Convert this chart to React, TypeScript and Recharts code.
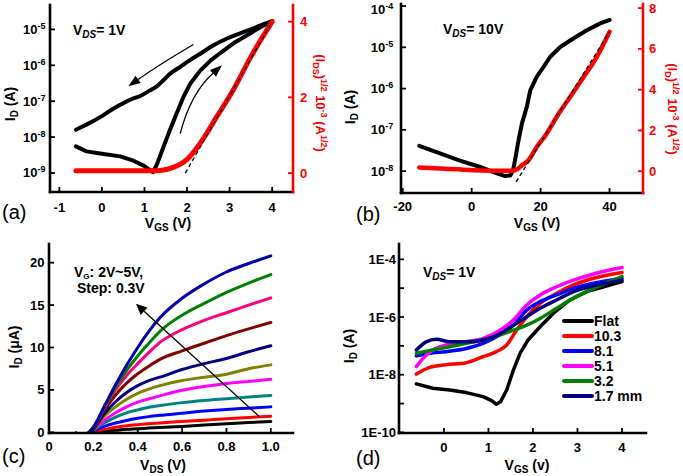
import React from 'react';
import { LineChart, Line, XAxis, YAxis, ReferenceLine, Legend } from 'recharts';

const FONT = '"Liberation Sans", Arial, Helvetica, sans-serif';

// ---------- Panel (a) data ----------
const aRevVgs = [-0.61, -0.28, -0.04, 0.19, 0.43, 0.66, 0.9, 1.13, 1.29, 1.45, 1.6, 1.84, 2.07, 2.31, 2.62, 2.94, 3.25, 3.56, 3.8, 4.0];
const aRevId = [1.6e-8, 2.5e-8, 3.6e-8, 5.4e-8, 7.9e-8, 1.1e-7, 1.4e-7, 2.0e-7, 2.6e-7, 3.9e-7, 5.8e-7, 9.1e-7, 1.4e-6, 2.1e-6, 3.6e-6, 5.6e-6, 7.8e-6, 1.07e-5, 1.4e-5, 1.7e-5];
const aFwdVgs = [-0.61, -0.36, -0.04, 0.43, 0.74, 0.98, 1.2, 1.29, 1.45, 1.6, 1.76, 1.92, 2.07, 2.31, 2.55, 2.78, 3.09, 3.41, 3.72, 4.0];
const aFwdId = [5.5e-9, 4.0e-9, 3.5e-9, 2.9e-9, 2.2e-9, 1.6e-9, 1.05e-9, 1.7e-9, 5.5e-9, 1.6e-8, 4.7e-8, 1.35e-7, 3.0e-7, 7.1e-7, 1.35e-6, 2.2e-6, 4.1e-6, 6.9e-6, 1.15e-5, 1.7e-5];
const aSqrtVgs = [-0.61, -0.3, 0, 0.4, 0.8, 1.0, 1.2, 1.37, 1.68, 2.0, 2.31, 2.7, 3.09, 3.49, 4.0];
const aSqrtId = [0.06, 0.06, 0.06, 0.06, 0.06, 0.06, 0.06, 0.07, 0.15, 0.36, 0.79, 1.49, 2.2, 3.05, 4.0];
const aFitVgs = [1.96, 4.0];
const aFitVal = [0, 4.0];
const aXTicks = [-1, 0, 1, 2, 3, 4];
const aYTicks = [1e-9, 1e-8, 1e-7, 1e-6, 1e-5];
const aRTicks = [0, 2, 4];

// ---------- Panel (b) data ----------
const bVgs = [-15.2, -9.2, -3.4, 2.5, 6.3, 9.7, 11.2, 12.0, 12.6, 13.6, 14.6, 16.0, 17.0, 18.9, 20.9, 22.8, 25.7, 29.6, 33.4, 37.3, 40.0];
const bId = [4.1e-8, 2.7e-8, 1.8e-8, 1.26e-8, 9.5e-9, 7.6e-9, 7.8e-9, 1.05e-8, 1.9e-8, 5.6e-8, 1.45e-7, 3.6e-7, 9.1e-7, 1.95e-6, 3.4e-6, 5.9e-6, 1.02e-5, 1.66e-5, 2.6e-5, 3.8e-5, 4.6e-5];
const bSqrtVgs = [-15.2, -9.2, 0.5, 10.2, 12.6, 14.6, 16.5, 18.9, 21.8, 24.7, 28.6, 32.5, 36.3, 40.0];
const bSqrtId = [0.18, 0.13, 0.05, 0.02, 0.05, 0.29, 0.54, 1.19, 1.85, 2.67, 3.65, 4.63, 5.61, 6.84];
const bFitVgs = [12.9, 40.0];
const bFitVal = [-0.52, 6.84];
const bXTicks = [-20, 0, 20, 40];
const bYTicks = [1e-8, 1e-7, 1e-6, 1e-5, 1e-4];
const bRTicks = [0, 2, 4, 6, 8];

// ---------- Panel (c) data ----------
const cVds = [0.12, 0.16, 0.2, 0.25, 0.3, 0.35, 0.4, 0.45, 0.5, 0.6, 0.7, 0.8, 0.9, 1.0];
const cId20 = [-0.1, -0.2, 0.05, 0.15, 0.25, 0.35, 0.42, 0.5, 0.57, 0.7, 0.85, 1.0, 1.15, 1.28];
const cId23 = [-0.1, -0.25, 0.1, 0.35, 0.6, 0.78, 0.9, 1.0, 1.1, 1.27, 1.43, 1.6, 1.75, 1.9];
const cId26 = [-0.1, -0.25, 0.2, 0.7, 1.1, 1.4, 1.65, 1.85, 2.0, 2.25, 2.5, 2.7, 2.85, 3.0];
const cId29 = [-0.1, -0.25, 0.25, 1.1, 1.8, 2.3, 2.65, 2.95, 3.15, 3.5, 3.75, 3.95, 4.15, 4.35];
const cId32 = [-0.1, -0.3, 0.3, 1.4, 2.3, 3.0, 3.55, 3.95, 4.3, 4.95, 5.4, 5.75, 6.0, 6.25];
const cId35 = [-0.1, -0.3, 0.35, 1.9, 3.0, 3.9, 4.6, 5.1, 5.5, 6.1, 6.5, 6.85, 7.5, 7.95];
const cId38 = [-0.1, -0.3, 0.4, 2.2, 3.6, 4.7, 5.5, 6.1, 6.5, 7.4, 8.1, 8.7, 9.5, 10.2];
const cId41 = [-0.1, -0.3, 0.5, 2.6, 4.4, 5.8, 6.9, 7.8, 8.6, 9.6, 10.5, 11.4, 12.2, 12.95];
const cId44 = [-0.1, -0.3, 0.55, 2.9, 5.0, 6.7, 8.1, 9.4, 10.6, 12.1, 13.2, 14.1, 15.0, 15.85];
const cId47 = [-0.1, -0.3, 0.6, 3.0, 5.3, 7.3, 9.0, 10.5, 11.9, 13.8, 15.2, 16.5, 17.6, 18.6];
const cId50 = [-0.1, -0.3, 0.6, 3.1, 5.6, 7.9, 10.0, 11.9, 13.5, 15.8, 17.5, 18.9, 19.9, 20.8];
const cVg = ['2.0', '2.3', '2.6', '2.9', '3.2', '3.5', '3.8', '4.1', '4.4', '4.7', '5.0'];
const cColors = ['#000000', '#ff0000', '#0000ff', '#008080', '#ff00ff', '#808000', '#000080', '#800000', '#ff0080', '#008000', '#0000a8'];
const cXTicks = [0, 0.2, 0.4, 0.6, 0.8, 1.0];
const cYTicks = [0, 5, 10, 15, 20];
const cArrowTail = { x: 0.949, y: 1.84 };
const cArrowHead = { x: 0.392, y: 15.15 };

// ---------- Panel (d) data ----------
const dFlatVgs = [-0.62, -0.25, 0.13, 0.5, 0.88, 1.07, 1.18, 1.27, 1.41, 1.56, 1.71, 1.89, 2.16, 2.46, 2.83, 3.21, 3.59, 4.0];
const dFlatId = [4.8e-9, 3.4e-9, 2.95e-9, 2.4e-9, 1.74e-9, 1.26e-9, 9.5e-10, 1.15e-9, 2.95e-9, 1.45e-8, 5.5e-8, 1.6e-7, 4.6e-7, 1.35e-6, 3.9e-6, 7.6e-6, 1.12e-5, 1.7e-5];
const d103Vgs = [-0.62, -0.32, 0.05, 0.5, 0.88, 1.18, 1.41, 1.63, 1.86, 2.16, 2.53, 2.91, 3.36, 4.0];
const d103Id = [1.05e-8, 1.8e-8, 2.2e-8, 2.6e-8, 4.2e-8, 6.3e-8, 1.07e-7, 3.5e-7, 1.02e-6, 2.95e-6, 6.6e-6, 1.29e-5, 2.2e-5, 3.5e-5];
const d81Vgs = [-0.62, -0.32, 0.05, 0.5, 0.88, 1.26, 1.56, 1.86, 2.16, 2.53, 2.91, 3.36, 4.0];
const d81Id = [4.5e-8, 5.5e-8, 6.3e-8, 8.1e-8, 1.23e-7, 2.4e-7, 5.2e-7, 1.74e-6, 3.4e-6, 5.8e-6, 9.8e-6, 1.48e-5, 2.2e-5];
const d51Vgs = [-0.62, -0.47, -0.25, 0.05, 0.5, 0.88, 1.26, 1.56, 1.86, 2.16, 2.53, 2.91, 3.36, 4.0];
const d51Id = [1.9e-8, 3.7e-8, 7.2e-8, 1.07e-7, 1.38e-7, 1.8e-7, 3.5e-7, 7.9e-7, 2.6e-6, 5.8e-6, 1.12e-5, 1.9e-5, 3.1e-5, 5.2e-5];
const d32Vgs = [-0.62, -0.25, 0.13, 0.5, 0.88, 1.26, 1.56, 1.86, 2.16, 2.53, 2.91, 3.36, 4.0];
const d32Id = [5.5e-8, 7.2e-8, 9.3e-8, 1.23e-7, 1.6e-7, 2.4e-7, 3.5e-7, 5.2e-7, 8.9e-7, 2.0e-6, 4.5e-6, 9.8e-6, 2.5e-5];
const d17Vgs = [-0.62, -0.4, -0.17, 0.13, 0.5, 0.88, 1.26, 1.56, 1.86, 2.16, 2.53, 2.91, 3.36, 4.0];
const d17Id = [7.2e-8, 1.38e-7, 1.7e-7, 1.38e-7, 1.38e-7, 1.6e-7, 2.6e-7, 5.2e-7, 1.02e-6, 2.0e-6, 3.9e-6, 7.6e-6, 1.2e-5, 1.9e-5];
const dNames = ['Flat', '10.3', '8.1', '5.1', '3.2', '1.7 mm'];
const dColors = ['#000000', '#ff0000', '#0000ff', '#ff00ff', '#008000', '#000080'];
const dXTicks = [0, 1, 2, 3, 4];
const dYTicks = [1e-10, 1e-9, 1e-8, 1e-7, 1e-6, 1e-5, 1e-4];

// ---------- helpers ----------
const pts = (xs: number[], ys: number[]) => xs.map((x, i) => ({ x, y: ys[i] }));

const AXIS = { stroke: '#000', strokeWidth: 2.6, strokeLinecap: 'square' as const };
const TICKLINE = { stroke: '#000', strokeWidth: 1.8 };
const RAXIS = { stroke: '#ff0000', strokeWidth: 2.6, strokeLinecap: 'square' as const };
const RTICKLINE = { stroke: '#ff0000', strokeWidth: 1.8 };
const TFS = 13;

const bottomTick = (fmt: (v: number) => string) => (p: any) => (
  <text x={p.x} y={p.y} dy="0.71em" textAnchor="middle" fontSize={TFS} fontWeight={700} fontFamily={FONT} fill="#000">
    {fmt(p.payload.value)}
  </text>
);
const leftTick = (fmt: (v: number) => string) => (p: any) => (
  <text x={p.x} y={p.y} dy={4.5} textAnchor="end" fontSize={TFS} fontWeight={700} fontFamily={FONT} fill="#000">
    {fmt(p.payload.value)}
  </text>
);
const powTick = (p: any) => {
  const e = Math.round(Math.log10(p.payload.value));
  return (
    <text x={p.x} y={Math.max(p.y, 9)} dy={4.5} textAnchor="end" fontSize={TFS} fontWeight={700} fontFamily={FONT} fill="#000">
      10<tspan dy={-5} fontSize={9}>{String(e)}</tspan>
    </text>
  );
};
const redTick = (p: any) => (
  <text x={p.x} y={p.y} dy={4.5} textAnchor="start" fontSize={TFS} fontWeight={700} fontFamily={FONT} fill="#ff0000">
    {p.payload.value}
  </text>
);
const eTick = (p: any) => {
  const e = Math.round(Math.log10(p.payload.value));
  return (
    <text x={p.x} y={p.y} dy={4.5} textAnchor="end" fontSize={TFS} fontWeight={700} fontFamily={FONT} fill="#000">
      {e % 2 === 0 ? `1E${e}` : ''}
    </text>
  );
};
const fmtInt = (v: number) => String(v);
const fmtDec = (v: number) => (v === 0 ? '0' : v.toFixed(1));

const makeArrow = (bend: number, head: number, hw: number, sw: number) => (p: any) => {
  const { x1, y1, x2, y2 } = p;
  const dx = x2 - x1;
  const dy = y2 - y1;
  const len = Math.hypot(dx, dy) || 1;
  const nx = -dy / len;
  const ny = dx / len;
  const cx = (x1 + x2) / 2 + nx * bend * len;
  const cy = (y1 + y2) / 2 + ny * bend * len;
  let tx = x2 - cx;
  let ty = y2 - cy;
  const tl = Math.hypot(tx, ty) || 1;
  tx /= tl;
  ty /= tl;
  const bx = x2 - tx * head;
  const by = y2 - ty * head;
  const tri = `${x2},${y2} ${bx - ty * hw},${by + tx * hw} ${bx + ty * hw},${by - tx * hw}`;
  return (
    <g>
      <path d={`M${x1},${y1} Q${cx},${cy} ${bx},${by}`} fill="none" stroke="#000" strokeWidth={sw} />
      <polygon points={tri} fill="#000" />
    </g>
  );
};

const lineBase = { dot: false, activeDot: false, isAnimationActive: false, strokeLinecap: 'round' as const, strokeLinejoin: 'round' as const };

// ---------- Panels ----------
function PanelA() {
  return (
    <div style={{ position: 'absolute', left: 0, top: 0 }}>
      <LineChart width={340} height={232} margin={{ top: 5, right: 7, bottom: 10, left: 0 }}>
        <XAxis xAxisId="b" type="number" dataKey="x" domain={[-1.22, 4.49]} ticks={aXTicks} allowDataOverflow interval={0}
          axisLine={AXIS} tickLine={TICKLINE} tickSize={-5} tickMargin={16} height={30} tick={bottomTick(fmtInt)} />
        <XAxis xAxisId="t" orientation="top" type="number" domain={[0, 1]} height={0} tick={false} tickLine={false} axisLine={AXIS} />
        <YAxis yAxisId="l" scale="log" type="number" domain={[2.95e-10, 4.79e-5]} ticks={aYTicks} allowDataOverflow interval={0}
          width={50} axisLine={AXIS} tickLine={TICKLINE} tickSize={-5} tickMargin={9.5} tick={powTick} />
        <YAxis yAxisId="r" orientation="right" type="number" domain={[-0.5, 4.44]} ticks={aRTicks} allowDataOverflow interval={0}
          width={40} axisLine={RAXIS} tickLine={RTICKLINE} tickSize={-5} tickMargin={12} tick={redTick} />
        <Line {...lineBase} xAxisId="b" yAxisId="l" data={pts(aRevVgs, aRevId)} dataKey="y" type="monotone" stroke="#000" strokeWidth={4} />
        <Line {...lineBase} xAxisId="b" yAxisId="l" data={pts(aFwdVgs, aFwdId)} dataKey="y" type="linear" stroke="#000" strokeWidth={4} />
        <Line {...lineBase} xAxisId="b" yAxisId="r" data={pts(aSqrtVgs, aSqrtId)} dataKey="y" type="monotone" stroke="#ff0000" strokeWidth={5} />
        <Line {...lineBase} xAxisId="b" yAxisId="r" data={pts(aFitVgs, aFitVal)} dataKey="y" type="linear" stroke="#000" strokeWidth={1.3} strokeDasharray="4 3" strokeLinecap="butt" />
        <ReferenceLine xAxisId="b" yAxisId="l" ifOverflow="visible" segment={[{ x: 2.15, y: 3.8e-6 }, { x: 0.62, y: 2.6e-7 }]}
          shape={makeArrow(0.02, 12, 4.5, 1.3)} />
        <ReferenceLine xAxisId="b" yAxisId="l" ifOverflow="visible" segment={[{ x: 1.84, y: 1.26e-8 }, { x: 2.82, y: 1.0e-6 }]}
          shape={makeArrow(-0.15, 12, 4.5, 1.3)} />
      </LineChart>
    </div>
  );
}

function PanelB() {
  return (
    <div style={{ position: 'absolute', left: 341, top: 0 }}>
      <LineChart width={342} height={232} margin={{ top: 4, right: 10, bottom: 9, left: 0 }}>
        <XAxis xAxisId="b" type="number" dataKey="x" domain={[-20.5, 49.7]} ticks={bXTicks} allowDataOverflow interval={0}
          axisLine={AXIS} tickLine={TICKLINE} tickSize={-5} tickMargin={14} height={30} tick={bottomTick(fmtInt)} />
        <XAxis xAxisId="t" orientation="top" type="number" domain={[0, 1]} height={0} tick={false} tickLine={false} axisLine={AXIS} />
        <YAxis yAxisId="l" scale="log" type="number" domain={[2.95e-9, 1.12e-4]} ticks={bYTicks} allowDataOverflow interval={0}
          width={60} axisLine={AXIS} tickLine={TICKLINE} tickSize={-5} tickMargin={12.7} tick={powTick} />
        <YAxis yAxisId="r" orientation="right" type="number" domain={[-1.07, 8.2]} ticks={bRTicks} allowDataOverflow interval={0}
          width={30} axisLine={RAXIS} tickLine={RTICKLINE} tickSize={-5} tickMargin={11} tick={redTick} />
        <Line {...lineBase} xAxisId="b" yAxisId="l" data={pts(bVgs, bId)} dataKey="y" type="linear" stroke="#000" strokeWidth={4} />
        <Line {...lineBase} xAxisId="b" yAxisId="r" data={pts(bSqrtVgs, bSqrtId)} dataKey="y" type="monotone" stroke="#ff0000" strokeWidth={4.5} />
        <Line {...lineBase} xAxisId="b" yAxisId="r" data={pts(bFitVgs, bFitVal)} dataKey="y" type="linear" stroke="#000" strokeWidth={1.3} strokeDasharray="4 3" strokeLinecap="butt" />
      </LineChart>
    </div>
  );
}

function PanelC() {
  const series = [cId20, cId23, cId26, cId29, cId32, cId35, cId38, cId41, cId44, cId47, cId50];
  return (
    <div style={{ position: 'absolute', left: 0, top: 232 }}>
      <LineChart width={340} height={244} margin={{ top: 12, right: 47, bottom: 13, left: 0 }}>
        <XAxis xAxisId="b" type="number" dataKey="x" domain={[0, 1.1]} ticks={cXTicks} allowDataOverflow interval={0}
          axisLine={AXIS} tickLine={TICKLINE} tickSize={-5} tickMargin={13.7} height={30} tick={bottomTick(fmtDec)} />
        <XAxis xAxisId="t" orientation="top" type="number" domain={[0, 1]} height={0} tick={false} tickLine={false} axisLine={AXIS} />
        <YAxis yAxisId="l" type="number" domain={[-0.08, 22.2]} ticks={cYTicks} allowDataOverflow interval={0}
          width={49} axisLine={AXIS} tickLine={TICKLINE} tickSize={-5} tickMargin={9.5} tick={leftTick(fmtInt)} />
        <YAxis yAxisId="r" orientation="right" type="number" domain={[0, 1]} width={0} tick={false} tickLine={false} axisLine={AXIS} />
        {series.map((ys, i) => (
          <Line key={cVg[i]} {...lineBase} name={`VG ${cVg[i]} V`} xAxisId="b" yAxisId="l" data={pts(cVds, ys)} dataKey="y"
            type="monotone" stroke={cColors[i]} strokeWidth={3} />
        ))}
        <ReferenceLine xAxisId="b" yAxisId="l" ifOverflow="visible" segment={[cArrowTail, cArrowHead]} shape={makeArrow(0, 11, 5, 1.3)} />
      </LineChart>
    </div>
  );
}

const legendContent = (props: any) => {
  const items = [...(props.payload || [])].sort((a: any, b: any) => dNames.indexOf(a.value) - dNames.indexOf(b.value));
  return (
    <svg width={110} height={96} style={{ display: 'block' }}>
      {items.map((it: any, i: number) => (
        <g key={it.value}>
          <line x1={2} x2={30} y1={8 + i * 15} y2={8 + i * 15} stroke={it.color} strokeWidth={4} strokeLinecap="round" />
          <text x={32} y={13 + i * 15} fontSize={14} fontWeight={700} fontFamily={FONT} fill="#000">{it.value}</text>
        </g>
      ))}
    </svg>
  );
};

function PanelD() {
  const series = [pts(dFlatVgs, dFlatId), pts(d103Vgs, d103Id), pts(d81Vgs, d81Id), pts(d51Vgs, d51Id), pts(d32Vgs, d32Id), pts(d17Vgs, d17Id)];
  return (
    <div style={{ position: 'absolute', left: 341, top: 232 }}>
      <LineChart width={342} height={244} margin={{ top: 12, right: 37, bottom: 13, left: 0 }}>
        <XAxis xAxisId="b" type="number" dataKey="x" domain={[-1.01, 4.54]} ticks={dXTicks} allowDataOverflow interval={0}
          axisLine={AXIS} tickLine={TICKLINE} tickSize={-5} tickMargin={15} height={30} tick={bottomTick(fmtInt)} />
        <XAxis xAxisId="t" orientation="top" type="number" domain={[0, 1]} height={0} tick={false} tickLine={false} axisLine={AXIS} />
        <YAxis yAxisId="l" scale="log" type="number" domain={[9.55e-11, 3.39e-4]} ticks={dYTicks} allowDataOverflow interval={0}
          width={58} axisLine={AXIS} tickLine={TICKLINE} tickSize={-5} tickMargin={8} tick={eTick} />
        <YAxis yAxisId="r" orientation="right" type="number" domain={[0, 1]} width={0} tick={false} tickLine={false} axisLine={AXIS} />
        {series.map((d, i) => (
          <Line key={dNames[i]} {...lineBase} name={dNames[i]} xAxisId="b" yAxisId="l" data={d} dataKey="y"
            type={i === 0 ? 'linear' : 'monotone'} stroke={dColors[i]} strokeWidth={3.5} />
        ))}
        <Legend layout="vertical" align="center" verticalAlign="middle" wrapperStyle={{ left: 221, top: 81, width: 110 }} content={legendContent} />
      </LineChart>
    </div>
  );
}

const B = { fontWeight: 700 } as const;

function Overlay() {
  return (
    <svg width={683} height={476} style={{ position: 'absolute', left: 0, top: 0, pointerEvents: 'none' }} fontFamily={FONT}>
      {/* (a) */}
      <text x={73} y={35} fontSize={14} {...B}>V<tspan fontSize={10} fontStyle="italic" dy={3}>DS</tspan><tspan dy={-3}>= 1V</tspan></text>
      <text transform="translate(14.5,104) rotate(-90)" textAnchor="middle" fontSize={14} {...B}>I<tspan fontSize={10} dy={3}>D</tspan><tspan dy={-3}> (A)</tspan></text>
      <text x={168} y={228} textAnchor="middle" fontSize={14} {...B}>V<tspan fontSize={10} dy={3}>GS</tspan><tspan dy={-3}> (V)</tspan></text>
      <text transform="translate(316,103) rotate(90)" textAnchor="middle" fontSize={13} fill="#ff0000" {...B}>
        (I<tspan fontSize={9} dy={3}>DS</tspan><tspan dy={-3}>)</tspan><tspan fontSize={9} dy={-5}>1/2</tspan><tspan dy={5}> 10</tspan><tspan fontSize={9} dy={-5}>-3</tspan><tspan dy={5}> (A</tspan><tspan fontSize={9} dy={-5}>1/2</tspan><tspan dy={5}>)</tspan>
      </text>
      <text x={2} y={219} fontSize={20}>(a)</text>

      {/* (b) */}
      <text x={443} y={34} fontSize={14} {...B}>V<tspan fontSize={10} fontStyle="italic" dy={3}>DS</tspan><tspan dy={-3}>= 10V</tspan></text>
      <text transform="translate(355,107) rotate(-90)" textAnchor="middle" fontSize={14} {...B}>I<tspan fontSize={10} dy={3}>D</tspan><tspan dy={-3}> (A)</tspan></text>
      <text x={537} y={228} textAnchor="middle" fontSize={14} {...B}>V<tspan fontSize={10} dy={3}>GS</tspan><tspan dy={-3}> (V)</tspan></text>
      <text transform="translate(668,109) rotate(90)" textAnchor="middle" fontSize={13} fill="#ff0000" {...B}>
        (I<tspan fontSize={9} dy={3}>D</tspan><tspan dy={-3}>)</tspan><tspan fontSize={9} dy={-5}>1/2</tspan><tspan dy={5}> 10</tspan><tspan fontSize={9} dy={-5}>-3</tspan><tspan dy={5}> (A</tspan><tspan fontSize={9} dy={-5}>1/2</tspan><tspan dy={5}>)</tspan>
      </text>
      <text x={356} y={221} fontSize={20}>(b)</text>

      {/* (c) */}
      <text x={74} y={277} fontSize={14} {...B}>V<tspan fontSize={8} dy={2}>G</tspan><tspan dy={-2}>: 2V~5V,</tspan></text>
      <text x={77} y={293} fontSize={14} {...B}>Step: 0.3V</text>
      <text transform="translate(19,347) rotate(-90)" textAnchor="middle" fontSize={14} {...B}>I<tspan fontSize={10} dy={3}>D</tspan><tspan dy={-3}> (μA)</tspan></text>
      <text x={163} y={470} textAnchor="middle" fontSize={14} {...B}>V<tspan fontSize={10} dy={3}>DS</tspan><tspan dy={-3}> (V)</tspan></text>
      <text x={2} y={463} fontSize={20}>(c)</text>

      {/* (d) */}
      <text x={423} y={277} fontSize={14} {...B}>V<tspan fontSize={10} fontStyle="italic" dy={3}>DS</tspan><tspan dy={-3}>= 1V</tspan></text>
      <text transform="translate(354,346) rotate(-90)" textAnchor="middle" fontSize={14} {...B}>I<tspan fontSize={10} dy={3}>D</tspan><tspan dy={-3}> (A)</tspan></text>
      <text x={527} y={470} textAnchor="middle" fontSize={14} {...B}>V<tspan fontSize={10} dy={3}>GS</tspan><tspan dy={-3}> (v)</tspan></text>
      <text x={356} y={465} fontSize={20}>(d)</text>
    </svg>
  );
}

export default function App() {
  return (
    <div style={{ position: 'absolute', left: 0, top: 0, width: 683, height: 476, background: '#fff', fontFamily: FONT, overflow: 'hidden' }}>
      <PanelA />
      <PanelB />
      <PanelC />
      <PanelD />
      <Overlay />
    </div>
  );
}
